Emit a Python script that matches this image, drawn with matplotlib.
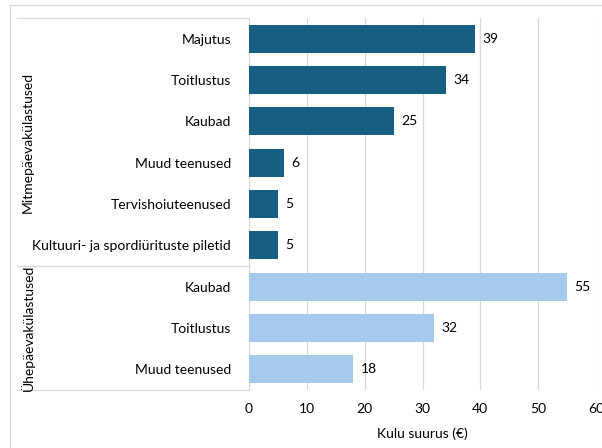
import numpy as np
import matplotlib.pyplot as plt
from matplotlib.lines import Line2D

plt.rcParams['font.family'] = ['Lato', 'DejaVu Sans']

categories = ["Majutus", "Toitlustus", "Kaubad", "Muud teenused",
              "Tervishoiuteenused", "Kultuuri- ja spordiürituste piletid",
              "Kaubad", "Toitlustus", "Muud teenused"]
values = [39, 34, 25, 6, 5, 5, 55, 32, 18]
groups = ["Mitmepäevakülastused"] * 6 + ["Ühepäevakülastused"] * 3
group_names = ["Mitmepäevakülastused", "Ühepäevakülastused"]
dark = "#175e83"
light = "#a7c9eb"
grid_col = "#d9d9d9"

fig = plt.figure(figsize=(6.02, 4.48), dpi=100)
ax = fig.add_axes([249 / 602, 1 - 390 / 448, 347 / 602, 372 / 448])

y = np.arange(len(values))
colors = [dark if g == group_names[0] else light for g in groups]
ax.barh(y, values, height=0.68, color=colors, zorder=3)
for yi, v in zip(y, values):
    ax.text(v + 1.3, yi, str(v), va="center", ha="left", fontsize=10)

ax.set_ylim(len(values) - 0.5, -0.5)
ax.set_xlim(0, 60)
ax.set_xticks(np.arange(0, 61, 10))
ax.set_yticks(y)
ax.set_yticklabels(categories, fontsize=10)
ax.tick_params(axis="y", length=0, pad=13)
ax.tick_params(axis="x", length=0, pad=9, labelsize=10)
ax.grid(axis="x", color=grid_col, lw=0.9, zorder=0)
for s in ["top", "right", "bottom"]:
    ax.spines[s].set_visible(False)
ax.spines["left"].set_color(grid_col)
ax.set_xlabel("Kulu suurus (€)", fontsize=10, labelpad=9)

# group brackets
x0 = (17 - 249) / 347
for yy in [-0.5, 5.5, 8.5]:
    ax.add_line(Line2D([x0, 0], [yy, yy], transform=ax.get_yaxis_transform(),
                       color=grid_col, lw=0.9, clip_on=False))
ax.text(28 / 602, 1 - 142 / 448, group_names[0], rotation=90, ha="center",
        va="center", fontsize=10, transform=fig.transFigure)
ax.text(28 / 602, 1 - 328 / 448, group_names[1], rotation=90, ha="center",
        va="center", fontsize=10, transform=fig.transFigure)

# outer frame
fig.add_artist(Line2D([10 / 602, 1], [1 - 5 / 448] * 2, color=grid_col, lw=0.9))
fig.add_artist(Line2D([10 / 602] * 2, [0, 1 - 5 / 448], color=grid_col, lw=0.9))

fig.savefig("out.png", dpi=100)
